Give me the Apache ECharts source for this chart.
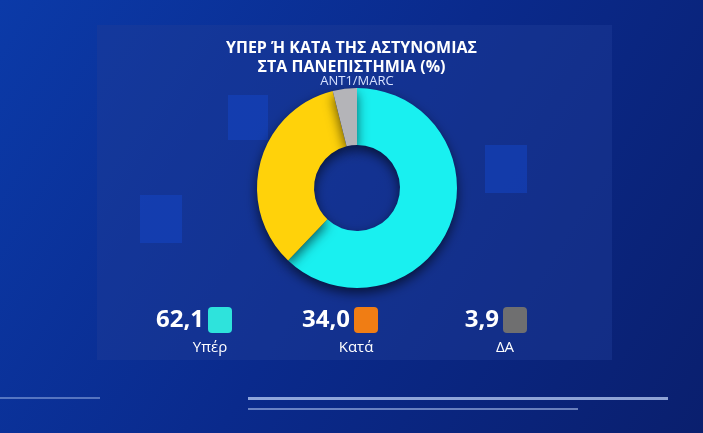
<!DOCTYPE html><html><head><meta charset="utf-8"><script src="https://cdn.jsdelivr.net/npm/echarts@6/dist/echarts.min.js"></script>
<style>html,body{margin:0;padding:0;background:#0a2a8a}#c{width:703px;height:433px}</style></head><body><div id="c"></div><script>
const categories=['Υπέρ','Κατά','ΔΑ'];
const values=[62.1,34.0,3.9];
const valueLabels=['62,1','34,0','3,9'];
const pieColors=['#19f0f0','#ffd20a','#b4b4b8'];
const legendColors=['#2ee3dc','#f07d14','#6f6f70'];
const legendX=[218,364,513];
const chart=echarts.init(document.getElementById('c'));
const g=[
 {type:'rect',shape:{x:0,y:0,width:703,height:433},style:{fill:new echarts.graphic.LinearGradient(0,0,1,1,[{offset:0,color:'#0b3aa8'},{offset:0.5,color:'#0a2a8c'},{offset:1,color:'#0a1f6e'}])},z:-10},
 {type:'rect',shape:{x:97,y:25,width:515,height:335},style:{fill:'rgba(30,60,150,0.45)'},z:-9},
 {type:'rect',shape:{x:228,y:95,width:40,height:45},style:{fill:'rgba(20,70,200,0.5)'},z:-8},
 {type:'rect',shape:{x:140,y:195,width:42,height:48},style:{fill:'rgba(20,70,200,0.5)'},z:-8},
 {type:'rect',shape:{x:485,y:145,width:42,height:48},style:{fill:'rgba(20,70,200,0.5)'},z:-8},
 {type:'rect',shape:{x:248,y:397,width:420,height:3},style:{fill:'rgba(200,220,255,0.7)'},z:-8},
 {type:'rect',shape:{x:248,y:408,width:330,height:2},style:{fill:'rgba(200,220,255,0.5)'},z:-8},
 {type:'rect',shape:{x:0,y:397,width:100,height:2},style:{fill:'rgba(200,220,255,0.4)'},z:-8},
 {type:'text',x:357,y:81,style:{text:'ANT1/MARC',fill:'#d8e2ff',font:'13px "Open Sans"',textAlign:'center',textVerticalAlign:'middle'}}
];
categories.forEach((c,i)=>{
 g.push({type:'rect',shape:{x:legendX[i]-10,y:307,width:24,height:26,r:4},style:{fill:legendColors[i]}});
 g.push({type:'text',x:legendX[i]-14,y:320,style:{text:valueLabels[i],fill:'#fff',font:'bold 24px "Open Sans"',textAlign:'right',textVerticalAlign:'middle'}});
 g.push({type:'text',x:legendX[i]-8,y:348,style:{text:c,fill:'#fff',font:'15px "Open Sans"',textAlign:'center',textVerticalAlign:'middle'}});
});
chart.setOption({
 title:{text:'ΥΠΕΡ Ή ΚΑΤΑ ΤΗΣ ΑΣΤΥΝΟΜΙΑΣ\nΣΤΑ ΠΑΝΕΠΙΣΤΗΜΙΑ (%)',left:'center',top:34,
  textStyle:{color:'#fff',fontSize:16,fontWeight:'bold',fontFamily:'Open Sans',lineHeight:19}},
 graphic:g,
 series:[{type:'pie',center:[357,188],radius:[43,100],startAngle:90,clockwise:true,label:{show:false},silent:true,
  itemStyle:{borderWidth:0,shadowBlur:12,shadowColor:'rgba(0,0,0,0.6)',shadowOffsetY:5},
  data:categories.map((c,i)=>({name:c,value:values[i],itemStyle:{color:pieColors[i]}}))}]
});
</script></body></html>
